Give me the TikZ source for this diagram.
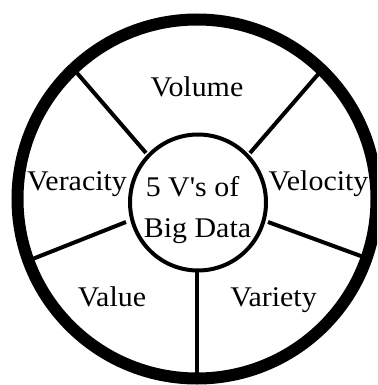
\documentclass[tikz,border=0pt]{standalone}
\usepackage{fontspec}
\usepackage{graphicx}
\setmainfont{Liberation Serif}
\newcommand{\widetext}[1]{\scalebox{1.05}[1]{#1}}
\begin{document}
\begin{tikzpicture}[x=1pt,y=-1pt,
  lbl/.style={anchor=base,inner sep=0pt,font=\fontsize{28.5}{32}\selectfont},
  spoke/.style={line width=4pt},
  hub/.style={line width=4pt},
  rim/.style={line width=12pt}]
\clip (0,0) rectangle (377,385);
% spoke endpoints
\coordinate (ul1) at (146,153); \coordinate (ul2) at (77,73);
\coordinate (ur1) at (250,153); \coordinate (ur2) at (320,72);
\coordinate (ll1) at (126,222); \coordinate (ll2) at (30,260);
\coordinate (lr1) at (268,222); \coordinate (lr2) at (369,259);
\coordinate (b1) at (197,272);  \coordinate (b2) at (197,380);
\draw[spoke] (ul1) -- (ul2);
\draw[spoke] (ur1) -- (ur2);
\draw[spoke] (ll1) -- (ll2);
\draw[spoke] (lr1) -- (lr2);
\draw[spoke] (b1) -- (b2);
\draw[hub,fill=white] (198,202.5) circle[radius=68];
\draw[rim] (197,199) circle[radius=179.5];
\node[lbl] (volume) at (197,97) {\widetext{Volume}};
\node[lbl] (veracity) at (77,190) {\widetext{Veracity}};
\node[lbl] (velocity) at (318.5,190) {\widetext{Velocity}};
\node[lbl] (t1) at (192.5,196) {\widetext{5 V\textquotesingle s of}};
\node[lbl] (t2) at (197.5,237) {\widetext{Big Data}};
\node[lbl] (value) at (112,306) {\widetext{Value}};
\node[lbl] (variety) at (273.5,306) {\widetext{Variety}};
\end{tikzpicture}
\end{document}
